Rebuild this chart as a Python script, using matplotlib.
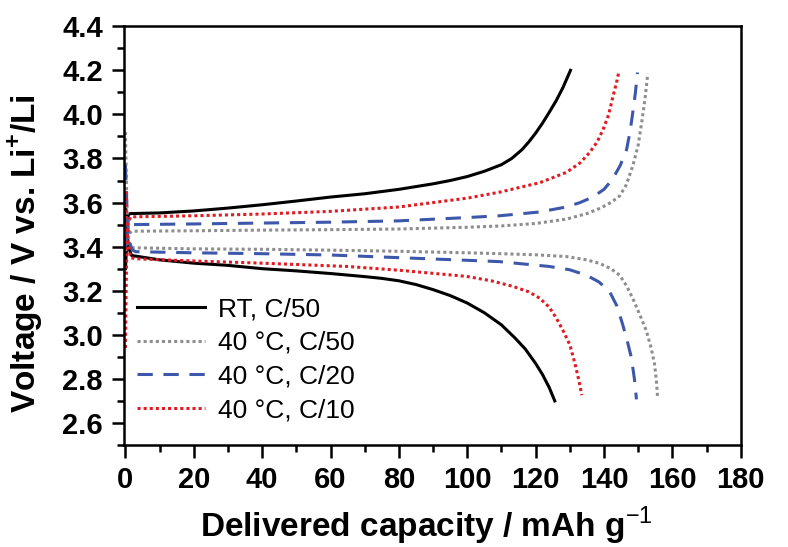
import numpy as np
import matplotlib
matplotlib.use('Agg')
import matplotlib.pyplot as plt
from matplotlib.ticker import MultipleLocator

plt.rcParams['font.family'] = ['Liberation Sans', 'DejaVu Sans']
plt.rcParams['mathtext.fontset'] = 'custom'
plt.rcParams['mathtext.rm'] = 'Liberation Sans'
plt.rcParams['mathtext.bf'] = 'Liberation Sans:bold'

# RT, C/50
rt_chg_cap = [0, 0.8, 1.5, 10, 20, 30, 40, 50, 60, 70, 80, 90, 95, 100, 105,
              110, 113, 116, 118, 120, 122, 124, 126, 128, 130.2]
rt_chg_v = [3.30, 3.545, 3.55, 3.553, 3.562, 3.575, 3.59, 3.607, 3.625, 3.64,
            3.66, 3.685, 3.70, 3.718, 3.742, 3.772, 3.80, 3.84, 3.875, 3.915,
            3.96, 4.01, 4.062, 4.122, 4.20]
rt_dis_cap = [0, 0.8, 1.8, 10, 20, 30, 40, 50, 60, 70, 75, 80, 85, 90, 95,
              100, 105, 110, 114, 117, 120, 122, 124, 125.6]
rt_dis_v = [3.60, 3.40, 3.36, 3.34, 3.325, 3.315, 3.30, 3.29, 3.278, 3.264,
            3.256, 3.245, 3.228, 3.205, 3.178, 3.144, 3.10, 3.045, 2.985,
            2.935, 2.87, 2.82, 2.76, 2.70]

# 40 C, C/50
c50_chg_cap = [0, 1, 2, 20, 40, 60, 80, 100, 110, 120, 129, 135, 139, 142,
               144.6, 146.5, 148.4, 150, 151, 152, 152.8]
c50_chg_v = [3.38, 3.46, 3.47, 3.472, 3.475, 3.477, 3.48, 3.488, 3.494, 3.505,
             3.525, 3.55, 3.575, 3.60, 3.63, 3.68, 3.765, 3.86, 3.96, 4.07,
             4.185]
c50_dis_cap = [0, 0.4, 1, 2, 20, 40, 60, 80, 100, 110, 120, 129, 135, 138.7,
               142, 144.6, 146.5, 148.4, 150.5, 152.4, 153.8, 154.8, 155.4,
               155.7]
c50_dis_v = [3.92, 3.60, 3.42, 3.395, 3.39, 3.388, 3.384, 3.379, 3.372, 3.368,
             3.363, 3.355, 3.34, 3.324, 3.30, 3.27, 3.225, 3.166, 3.09, 3.018,
             2.94, 2.866, 2.78, 2.71]

# 40 C, C/20
c20_chg_cap = [0, 1, 2, 20, 40, 60, 80, 100, 109.4, 121, 129, 133, 136.7, 140,
               142.5, 144.8, 146.6, 147.6, 148.4, 149.2, 149.8]
c20_chg_v = [3.40, 3.49, 3.50, 3.503, 3.507, 3.511, 3.517, 3.532, 3.54, 3.557,
             3.58, 3.60, 3.625, 3.66, 3.706, 3.77, 3.84, 3.92, 4.006, 4.10,
             4.19]
c20_dis_cap = [0, 0.5, 1, 2, 3, 20, 40, 60, 80, 100, 109.4, 124, 130, 134.9,
               138.5, 141.6, 143.8, 145.5, 147, 148, 148.9, 149.5]
c20_dis_v = [3.77, 3.55, 3.43, 3.385, 3.377, 3.372, 3.368, 3.362, 3.35, 3.338,
             3.332, 3.31, 3.295, 3.27, 3.24, 3.197, 3.13, 3.045, 2.96, 2.897,
             2.80, 2.707]

# 40 C, C/10
c10_chg_cap = [0, 0.3, 0.6, 1.5, 20, 40, 60, 80, 100, 109.4, 121.2, 129, 133,
               135.8, 138, 139.7, 141.4, 142.6, 143.6, 144.3]
c10_chg_v = [2.94, 3.30, 3.50, 3.535, 3.54, 3.548, 3.56, 3.58, 3.62, 3.647,
             3.69, 3.737, 3.78, 3.827, 3.875, 3.93, 4.00, 4.08, 4.14, 4.19]
c10_dis_cap = [0, 0.5, 1.5, 3, 20, 40, 65, 80, 99.8, 107, 113.3, 118, 121.2,
               124, 126, 128, 130, 131.5, 132.7, 133.5]
c10_dis_v = [3.65, 3.45, 3.35, 3.345, 3.335, 3.325, 3.31, 3.293, 3.265, 3.245,
             3.22, 3.195, 3.166, 3.125, 3.077, 3.02, 2.955, 2.87, 2.79, 2.726]

series = [
    ('RT, C/50', rt_chg_cap, rt_chg_v, rt_dis_cap, rt_dis_v,
     dict(color='black', linestyle='-')),
    ('40 °C, C/50', c50_chg_cap, c50_chg_v, c50_dis_cap, c50_dis_v,
     dict(color='#8e8e8e', linestyle=(0, (1, 1)))),
    ('40 °C, C/20', c20_chg_cap, c20_chg_v, c20_dis_cap, c20_dis_v,
     dict(color='#3d57aa', linestyle=(0, (5, 3.5)))),
    ('40 °C, C/10', c10_chg_cap, c10_chg_v, c10_dis_cap, c10_dis_v,
     dict(color='#e01b22', linestyle=(0, (1, 1)))),
]

fig = plt.figure(figsize=(7.88, 5.47), dpi=100)
ax = fig.add_axes([0.157, 0.1865, 0.783, 0.7655])

# charge and discharge branch of each cell share one style
for label, cc, cv, dc, dv, style in series:
    ax.plot(cc, cv, lw=2.2, label=label, **style)
    ax.plot(dc, dv, lw=2.2, **style)

ax.set_xlim(-0.5, 180)
ax.set_ylim(2.5, 4.4)
ax.xaxis.set_major_locator(MultipleLocator(20))
ax.xaxis.set_minor_locator(MultipleLocator(10))
ax.yaxis.set_minor_locator(MultipleLocator(0.1))
ax.set_yticks(np.arange(2.6, 4.41, 0.2))
ax.tick_params(which='major', direction='out', length=9, width=1.8, pad=6,
               labelsize=21)
ax.tick_params(which='minor', direction='out', length=5, width=1.8)
for lab in ax.get_xticklabels() + ax.get_yticklabels():
    lab.set_fontweight('bold')
for sp in ax.spines.values():
    sp.set_linewidth(1.8)

ax.set_xlabel(r'Delivered capacity / mAh g$^{-1}$', fontsize=24,
              fontweight='bold')
ax.set_ylabel(r'Voltage / V vs. Li$^{\mathbf{+}}$/Li', fontsize=24,
              fontweight='bold')
ax.xaxis.set_label_coords(0.49, -0.142)
ax.yaxis.set_label_coords(-0.128, 0.456)

ax.legend(loc='upper left', bbox_to_anchor=(0.021, 0.353), frameon=False,
          fontsize=19, handlelength=2.6, handletextpad=0.5, labelspacing=0.37,
          borderpad=0, borderaxespad=0)

fig.savefig('out.png', dpi=100)
